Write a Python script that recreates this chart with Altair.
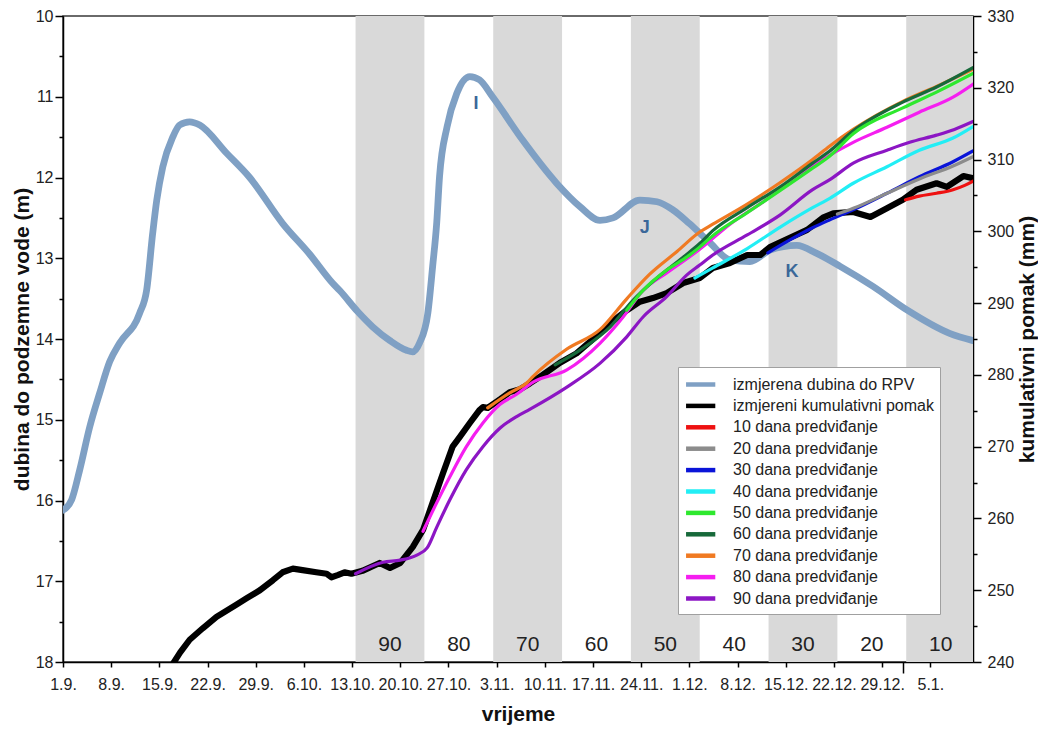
import altair as alt
import pandas as pd

W, H = 910, 646
X_MAX = 132.2
FONT = "Liberation Sans"

# ---- x axis ticks (every 7 days starting 1.9.) ----
tick_labels = ["1.9.", "8.9.", "15.9.", "22.9.", "29.9.", "6.10.", "13.10.", "20.10.",
               "27.10.", "3.11.", "10.11.", "17.11.", "24.11.", "1.12.", "8.12.",
               "15.12.", "22.12.", "29.12.", "5.1."]
tick_step = 7
year_tick_day = 122

# ---- 10-day forecast bands ----
band_labels = ["90", "80", "70", "60", "50", "40", "30", "20", "10"]
band_start = [42.5, 52.5, 62.5, 72.5, 82.5, 92.5, 102.5, 112.5, 122.5]
band_end = [52.5, 62.5, 72.5, 82.5, 92.5, 102.5, 112.5, 122.5, 132.5]
band_grey = [True, False, True, False, True, False, True, False, True]

# ---- measured groundwater depth (left axis, m) ----
rpv_day = [0, 1.26, 2.43, 3.88, 5.33, 6.79, 8.24, 11.14, 12.16, 13.03, 13.62, 14.49, 15.94,
           16.95, 18.4, 19.86, 23.78, 27.12, 31.92, 35.84, 39.18, 40.2, 42.8, 45.0, 47.5,
           49.9, 50.8, 51.8, 53.0, 53.7, 54.3, 54.7, 55.8, 57.2, 59.1, 60.5, 62.4, 66.8,
           71.7, 75.1, 78.0, 79.9, 83.8, 86.3, 88.6, 91.0, 94.0, 96.9, 99.8, 102.7, 106.6,
           109.5, 112.9, 117.7, 122.6, 128.8, 132.2]
rpv_depth = [16.12, 15.99, 15.62, 15.09, 14.67, 14.28, 14.05, 13.68, 13.39, 12.69, 12.28,
             11.87, 11.50, 11.35, 11.31, 11.35, 11.70, 12.00, 12.57, 12.95, 13.31, 13.40,
             13.66, 13.85, 14.02, 14.14, 14.16, 14.05, 13.68, 13.10, 12.55, 11.99, 11.37,
             10.96, 10.75, 10.79, 11.00, 11.54, 12.07, 12.36, 12.53, 12.50, 12.28, 12.30,
             12.40, 12.57, 12.81, 13.02, 13.04, 12.90, 12.84, 12.94, 13.10, 13.35, 13.64,
             13.93, 14.02]

# ---- annotations ----
ann_text = ["I", "J", "K"]
ann_day = [60.0, 84.5, 105.9]
ann_depth = [11.09, 12.63, 13.17]

# ---- measured cumulative displacement (right axis, mm) ----
pomak_day = [16.0, 17.0, 18.4, 20.3, 22.3, 25.2, 26.7, 28.6, 30.5, 31.9, 33.4, 34.8, 36.8,
             38.3, 39.0, 39.9, 40.9, 41.9, 43.5, 46.0, 47.5, 49.0, 50.8, 52.3, 53.7, 55.2,
             56.6, 57.6, 59.1, 60.5, 61.0, 61.7, 63.5, 64.9, 66.4, 67.8, 69.7, 72.2, 74.6,
             77.5, 79.5, 81.9, 83.8, 85.7, 87.7, 90.1, 92.5, 94.4, 96.9, 99.4, 101.3, 102.7,
             105.6, 108.1, 110.4, 111.9, 114.8, 117.3, 119.7, 122.0, 124.0, 126.9, 128.4,
             130.8, 132.2]
pomak_mm = [239.8, 241.3, 243.1, 244.7, 246.3, 248.0, 248.9, 250.0, 251.4, 252.5, 253.0,
            252.8, 252.5, 252.3, 251.8, 252.1, 252.5, 252.3, 252.7, 253.8, 253.1, 253.8,
            256.0, 258.4, 262.2, 266.3, 270.0, 271.3, 273.3, 275.1, 275.5, 275.4, 276.6,
            277.6, 278.0, 278.8, 280.0, 281.7, 283.0, 285.4, 287.2, 289.0, 290.2, 290.7,
            291.4, 292.8, 293.5, 294.9, 295.6, 296.7, 296.7, 297.8, 299.1, 300.2, 301.9,
            302.5, 302.7, 302.0, 303.2, 304.4, 305.8, 306.7, 306.2, 307.7, 307.4]

# ---- forecasts (right axis, mm) ----
p90_day = [42.5, 46.5, 49.0, 51.4, 52.9, 54.3, 56.2, 58.6, 61.0, 63.5, 65.9, 67.8, 73.2, 78.0,
           81.9, 84.3, 87.7, 90.6, 92.5, 94.4, 99.4, 104.2, 108.9, 111.4, 114.8, 119.7,
           123.0, 126.9, 129.5, 132.2]
p90_mm = [252.3, 253.9, 254.2, 254.9, 255.9, 258.8, 262.6, 266.8, 270.0, 272.6, 274.2,
          275.2, 278.3, 281.6, 285.3, 288.1, 290.9, 293.9, 295.3, 296.7, 299.5, 302.3,
          305.8, 307.2, 309.5, 311.3, 312.4, 313.4, 314.2, 315.3]
p80_day = [52.3, 54.3, 56.2, 58.6, 61.0, 63.5, 65.9, 68.3, 73.2, 78.0, 81.4, 84.3, 87.7,
           92.5, 96.9, 101.7, 106.6, 110.5, 114.8, 119.7, 124.4, 129.3, 132.2]
p80_mm = [258.2, 262.2, 265.8, 270.0, 273.3, 275.9, 277.3, 279.0, 280.7, 284.4, 288.1,
          291.8, 294.2, 297.5, 301.0, 304.1, 307.6, 310.1, 312.4, 314.5, 316.6, 318.7, 320.5]
p70_day = [61.7, 64.9, 67.4, 68.3, 73.2, 78.0, 81.9, 85.2, 89.2, 92.5, 94.4, 99.4, 104.2,
           108.9, 111.4, 114.8, 122.0, 126.9, 132.2]
p70_mm = [275.4, 277.5, 278.9, 279.8, 283.6, 286.3, 290.6, 294.0, 297.2, 299.9, 301.0,
          303.8, 306.8, 310.0, 311.9, 314.2, 318.1, 320.2, 322.6]
p60_day = [71.5, 75.5, 79.5, 82.8, 86.3, 90.1, 92.5, 94.4, 99.4, 104.2, 108.9, 111.4, 114.8,
           122.0, 126.9, 132.2]
p60_mm = [281.4, 283.7, 286.7, 290.4, 293.5, 296.4, 298.3, 300.1, 303.3, 306.2, 309.5,
          311.2, 314.0, 318.0, 320.1, 322.8]
p50_day = [81.9, 84.3, 87.7, 90.6, 92.5, 94.4, 99.4, 104.2, 108.9, 111.4, 114.8, 122.0,
           126.9, 132.2]
p50_mm = [289.0, 291.8, 294.6, 296.4, 297.8, 299.4, 302.6, 305.7, 308.8, 310.5, 313.6,
          317.2, 319.4, 322.0]
p40_day = [91.8, 94.4, 99.4, 104.2, 108.9, 111.4, 114.8, 119.7, 124.4, 129.3, 132.2]
p40_mm = [293.5, 294.9, 297.6, 300.6, 303.3, 304.6, 306.7, 309.0, 311.3, 313.0, 314.6]
p30_day = [102.4, 105.6, 108.9, 111.4, 114.8, 119.7, 124.4, 129.3, 132.2]
p30_mm = [297.0, 298.8, 300.5, 301.6, 303.0, 305.3, 307.6, 309.7, 311.2]
p20_day = [112.5, 114.8, 119.7, 124.4, 129.3, 132.2]
p20_mm = [302.4, 303.2, 305.3, 307.3, 309.1, 310.4]
p10_day = [122.4, 124.4, 126.9, 129.3, 131.0, 132.2]
p10_mm = [304.4, 304.9, 305.3, 305.8, 306.4, 307.0]

# ---- series styling ----
series_names = ["izmjerena dubina do RPV", "izmjereni kumulativni pomak",
                "10 dana predviđanje", "20 dana predviđanje", "30 dana predviđanje",
                "40 dana predviđanje", "50 dana predviđanje", "60 dana predviđanje",
                "70 dana predviđanje", "80 dana predviđanje", "90 dana predviđanje"]
series_colors = ["#7fa0c4", "#000000", "#ee1111", "#8c8c8c", "#0a14d8", "#22eef5",
                 "#2ee82e", "#17693a", "#f07a22", "#f51ef0", "#8c16c4"]
RPV_WIDTH, POMAK_WIDTH, PRED_WIDTH = 6.8, 6.2, 3.2

# ---- build tables ----
band_df = pd.DataFrame({"start": band_start, "end": band_end, "grey": band_grey,
                        "label": band_labels})
band_df["mid"] = (band_df["start"] + band_df["end"]) / 2
grey_df = band_df[band_df["grey"]]

rpv_df = pd.DataFrame({"day": rpv_day, "depth": rpv_depth, "series": series_names[0]})
ann_df = pd.DataFrame({"day": ann_day, "depth": ann_depth, "t": ann_text})
pomak_df = pd.DataFrame({"day": pomak_day, "mm": pomak_mm, "series": series_names[1]})

pred_sets = [(p90_day, p90_mm, 10), (p80_day, p80_mm, 9), (p70_day, p70_mm, 8),
             (p60_day, p60_mm, 7), (p50_day, p50_mm, 6), (p40_day, p40_mm, 5),
             (p30_day, p30_mm, 4), (p20_day, p20_mm, 3), (p10_day, p10_mm, 2)]
pred_df = pd.concat([pd.DataFrame({"day": d, "mm": m, "series": series_names[i]})
                     for d, m, i in pred_sets], ignore_index=True)

# ---- encodings ----
arr = "[" + ",".join("'" + s + "'" for s in tick_labels) + "]"
x_values = [i * tick_step for i in range(len(tick_labels))] + [year_tick_day]
x_axis = alt.Axis(values=x_values, title="vrijeme",
                  labelExpr=f"datum.value % {tick_step} == 0 ? {arr}[datum.value / {tick_step}] : ''",
                  tickSize={"condition": {"test": f"datum.value == {year_tick_day}", "value": 11},
                            "value": 5},
                  labelPadding=9, titleX=W / 2, titleY=52, titleBaseline="middle",
                  titleAlign="center", labelFlush=False, labelOverlap=False)
x_scale = alt.Scale(domain=[0, X_MAX], nice=False, zero=False)


def xenc(field):
    return alt.X(f"{field}:Q", scale=x_scale, axis=x_axis)


left_axis = alt.Axis(orient="left", values=[10 + 0.5 * i for i in range(17)],
                     labelExpr="datum.value % 1 == 0 ? format(datum.value, 'd') : ''",
                     tickSize={"condition": {"test": "datum.value % 1 == 0", "value": 8}, "value": 4},
                     labelPadding=2, title="dubina do podzemne vode (m)",
                     titleAngle=270, titleX=-41, titleY=H / 2, titleBaseline="middle",
                     titleAlign="center")
right_axis = alt.Axis(orient="right", values=[240 + 5 * i for i in range(19)],
                      labelExpr="datum.value % 10 == 0 ? format(datum.value, 'd') : ''",
                      tickSize={"condition": {"test": "datum.value % 10 == 0", "value": 8}, "value": 4},
                      labelPadding=6, title="kumulativni pomak (mm)",
                      titleAngle=270, titleX=54, titleY=H / 2, titleBaseline="middle",
                      titleAlign="center")

legend = alt.Legend(title=None, orient="none", legendX=615, legendY=351,
                    symbolType="M-1.05,0H2.2", symbolSize=324, labelFontSize=16, labelFont=FONT,
                    labelColor="#222", labelLimit=400, fillColor="white",
                    strokeColor="#a0a0a0", padding=6, rowPadding=0.4, labelOffset=26,
                    symbolStrokeWidth=4.5)
color_enc = alt.Color("series:N", scale=alt.Scale(domain=series_names, range=series_colors),
                      legend=legend)

# ---- layers ----
bands = alt.Chart(grey_df).mark_rect(color="#d9d9d9", clip=True).encode(
    x=xenc("start"), x2="end:Q", y=alt.value(0), y2=alt.value(H))

band_text = alt.Chart(band_df).mark_text(font=FONT, fontSize=21, color="#222",
                                         baseline="middle").encode(
    x=xenc("mid"), y=alt.value(629), text="label:N")

depth_scale = alt.Scale(domain=[10, 18], reverse=True, nice=False, zero=False)
blue = alt.Chart(rpv_df).mark_line(clip=True, strokeCap="round", strokeJoin="round",
                                   interpolate="monotone", strokeWidth=RPV_WIDTH).encode(
    x=xenc("day"), y=alt.Y("depth:Q", scale=depth_scale, axis=left_axis),
    color=color_enc)
ann = alt.Chart(ann_df).mark_text(font=FONT, fontSize=18, fontWeight="bold",
                                  color="#3b6899").encode(
    x=xenc("day"), y=alt.Y("depth:Q", scale=depth_scale, axis=left_axis), text="t:N")
depth_layer = alt.layer(blue, ann)

mm_scale = alt.Scale(domain=[240, 330], nice=False, zero=False)
black = alt.Chart(pomak_df).mark_line(clip=True, strokeCap="round", strokeJoin="round",
                                      strokeWidth=POMAK_WIDTH).encode(
    x=xenc("day"), y=alt.Y("mm:Q", scale=mm_scale, axis=right_axis),
    color=color_enc)
preds = alt.Chart(pred_df).mark_line(clip=True, strokeCap="round", strokeJoin="round",
                                     interpolate="monotone", strokeWidth=PRED_WIDTH).encode(
    x=xenc("day"), y=alt.Y("mm:Q", scale=mm_scale, axis=right_axis),
    color=color_enc)
mm_layer = alt.layer(black, preds)

chart = alt.layer(bands, band_text, depth_layer, mm_layer).resolve_scale(
    y="independent"
).properties(
    width=W, height=H,
    padding={"left": 55, "top": 8, "right": 65, "bottom": 63},
    autosize=alt.AutoSizeParams(type="none"),
).configure_view(
    stroke="#3a3a3a", strokeWidth=1.5
).configure_axis(
    domainColor="black", domainWidth=1.5, tickColor="black", tickWidth=1.5,
    labelFont=FONT, labelFontSize=16, labelColor="#222",
    titleFont=FONT, titleFontSize=21, titleFontWeight="bold", titleColor="#111",
    grid=False, zindex=1
)

chart.save("out.html", embed_options={"renderer": "svg", "actions": False})
